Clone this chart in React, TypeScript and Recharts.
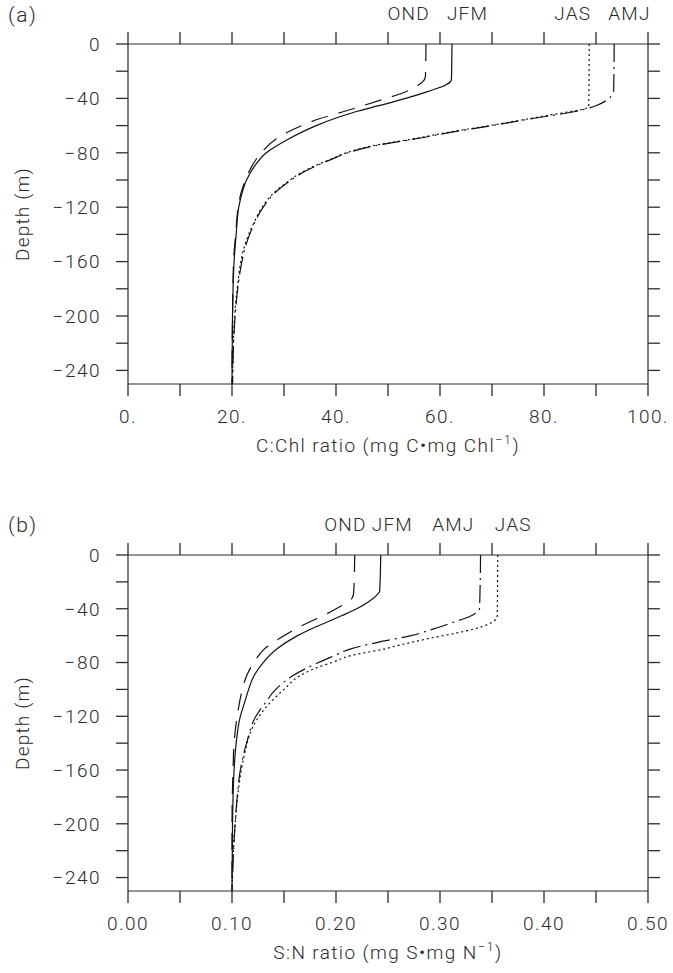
import React from 'react';
import { LineChart, Line, XAxis, YAxis } from 'recharts';

const FONT = 'Roboto, "DejaVu Sans", sans-serif';
const INK = '#2b2b2b';

// depth axis ticks (m), same for both panels
const DEPTH_TICKS = [0, -20, -40, -60, -80, -100, -120, -140, -160, -180, -200, -220, -240];
const CCHL_TICKS = [0, 10, 20, 30, 40, 50, 60, 70, 80, 90, 100];
const SN_TICKS = [0, 0.05, 0.1, 0.15, 0.2, 0.25, 0.3, 0.35, 0.4, 0.45, 0.5];

// (a) C:Chl ratio profiles
const chlJfmDepth = [0, -26, -30, -35, -40, -45, -50, -55, -60, -70, -80, -90, -100, -110, -120, -140, -160, -200, -250];
const chlJfm = [62.3, 62.2, 61.2, 57.6, 53.4, 48.6, 43.6, 39.6, 36.2, 30.8, 26.6, 24.3, 22.8, 21.9, 21.3, 20.8, 20.4, 20.1, 20.0];
const chlOndDepth = [0, -24, -28, -32, -36, -40, -45, -50, -55, -60, -70, -80, -90, -100, -110, -120, -140, -160, -200, -250];
const chlOnd = [57.3, 57.2, 56.6, 55.0, 52.8, 49.6, 45.5, 41.2, 36.8, 33.4, 28.4, 25.6, 23.8, 22.6, 21.7, 21.2, 20.7, 20.3, 20.1, 20.0];
const chlJasDepth = [0, -46, -48, -50, -55, -60, -65, -70, -75, -80, -85, -90, -95, -100, -110, -120, -130, -140, -150, -160, -180, -200, -250];
const chlJas = [88.7, 88.6, 87.5, 84.5, 77.0, 69.5, 61.5, 54.5, 46.8, 42.0, 38.8, 35.7, 33.1, 31.2, 27.9, 25.8, 24.4, 23.2, 22.3, 21.7, 21.0, 20.5, 20.1];
const chlAmjDepth = [0, -34, -38, -42, -45, -48, -50, -55, -60, -65, -70, -75, -80, -85, -90, -95, -100, -110, -120, -130, -140, -150, -160, -180, -200, -250];
const chlAmj = [93.5, 93.4, 93.0, 91.8, 90.2, 87.8, 85.5, 77.5, 70.0, 62.0, 55.0, 47.2, 42.3, 39.0, 36.0, 33.4, 31.4, 28.1, 26.0, 24.5, 23.4, 22.5, 21.9, 21.1, 20.6, 20.1];

// (b) S:N ratio profiles
const snJfmDepth = [0, -27, -30, -35, -40, -45, -50, -55, -60, -70, -80, -90, -100, -110, -120, -140, -160, -200, -250];
const snJfm = [0.243, 0.242, 0.239, 0.231, 0.22, 0.206, 0.191, 0.176, 0.163, 0.143, 0.13, 0.121, 0.116, 0.112, 0.108, 0.104, 0.102, 0.1005, 0.1];
const snOndDepth = [0, -28, -32, -36, -40, -45, -50, -55, -60, -70, -80, -90, -100, -120, -140, -160, -200, -250];
const snOnd = [0.218, 0.217, 0.2155, 0.209, 0.2, 0.188, 0.174, 0.161, 0.15, 0.131, 0.121, 0.114, 0.11, 0.105, 0.102, 0.101, 0.1, 0.1];
const snAmjDepth = [0, -40, -43, -46, -50, -55, -60, -65, -70, -75, -80, -90, -100, -110, -120, -140, -160, -180, -200, -250];
const snAmj = [0.339, 0.338, 0.335, 0.328, 0.313, 0.294, 0.272, 0.24, 0.2135, 0.198, 0.183, 0.158, 0.142, 0.132, 0.123, 0.114, 0.108, 0.105, 0.103, 0.1];
const snJasDepth = [0, -46, -49, -52, -55, -58, -62, -67, -70, -75, -80, -84, -90, -100, -113, -128, -145, -160, -200, -250];
const snJas = [0.3555, 0.355, 0.352, 0.345, 0.333, 0.316, 0.29, 0.2615, 0.246, 0.2135, 0.196, 0.181, 0.165, 0.15, 0.133, 0.12, 0.113, 0.109, 0.103, 0.1];

const zip = (depth: number[], value: number[]) => depth.map((d, i) => ({ d, v: value[i] }));

type Series = {
  name: string;
  data: { d: number; v: number }[];
  dash?: string;
  anchor: 'start' | 'end';
  dx: number;
};

const DASH = {
  JFM: undefined,
  OND: '17 11',
  JAS: '2 3',
  AMJ: '18 5 2 5',
};

const panelA: Series[] = [
  { name: 'OND', data: zip(chlOndDepth, chlOnd), dash: DASH.OND, anchor: 'end', dx: 4 },
  { name: 'JFM', data: zip(chlJfmDepth, chlJfm), dash: DASH.JFM, anchor: 'start', dx: -5 },
  { name: 'JAS', data: zip(chlJasDepth, chlJas), dash: DASH.JAS, anchor: 'end', dx: 2 },
  { name: 'AMJ', data: zip(chlAmjDepth, chlAmj), dash: DASH.AMJ, anchor: 'start', dx: -6 },
];

const panelB: Series[] = [
  { name: 'OND', data: zip(snOndDepth, snOnd), dash: DASH.OND, anchor: 'end', dx: 12 },
  { name: 'JFM', data: zip(snJfmDepth, snJfm), dash: DASH.JFM, anchor: 'start', dx: -9 },
  { name: 'AMJ', data: zip(snAmjDepth, snAmj), dash: DASH.AMJ, anchor: 'end', dx: -6 },
  { name: 'JAS', data: zip(snJasDepth, snJas), dash: DASH.JAS, anchor: 'start', dx: -3 },
];

const tickStyle = { fontFamily: FONT, fontSize: 19, fill: INK, fontWeight: 300, letterSpacing: 1.5 };
const tickLine = { stroke: INK, strokeWidth: 1.3 };
const minus = (s: string) => s.replace('-', '\u2212');

function SeasonLabel(props: any) {
  const { x, y, index, text, anchor, dx } = props;
  if (index !== 0) return null;
  return (
    <text x={x + dx} y={y - 24} textAnchor={anchor} fontFamily={FONT} fontSize={19} fontWeight={300} fill={INK} letterSpacing={1.2}>
      {text}
    </text>
  );
}

function XTitle(props: any) {
  const { viewBox, main, unitA, unitB } = props;
  const cx = viewBox.x + viewBox.width / 2;
  const y = viewBox.y + 68;
  return (
    <text x={cx} y={y} textAnchor="middle" fontFamily={FONT} fontSize={19} fontWeight={300} fill={INK} letterSpacing={1.4}>
      {main}
      <tspan>{unitA}</tspan>
      <tspan fontSize={13} dy={-8}>{'\u22121'}</tspan>
      <tspan dy={8}>{unitB}</tspan>
    </text>
  );
}

function YTitle(props: any) {
  const { viewBox } = props;
  const cx = 22;
  const cy = viewBox.y + viewBox.height / 2;
  return (
    <text
      x={cx}
      y={cy}
      transform={`rotate(-90 ${cx} ${cy})`}
      textAnchor="middle"
      dominantBaseline="central"
      fontFamily={FONT}
      fontSize={19}
      fontWeight={300}
      fill={INK}
      letterSpacing={1.2}
    >
      Depth (m)
    </text>
  );
}

type PanelProps = {
  series: Series[];
  domain: [number, number];
  ticks: number[];
  fmt: (v: number, i: number) => string;
  titleMain: string;
  titleA: string;
  titleB: string;
  top: number;
  bottom: number;
};

function Panel({ series, domain, ticks, fmt, titleMain, titleA, titleB, top, bottom }: PanelProps) {
  return (
    <LineChart width={673} height={486} layout="vertical" margin={{ top, right: 10, bottom, left: 28 }}>
      <XAxis
        xAxisId="bottom"
        type="number"
        orientation="bottom"
        domain={domain}
        allowDataOverflow
        ticks={ticks}
        interval={0}
        height={60}
        tickSize={12}
        tickMargin={14}
        tickFormatter={fmt}
        stroke={INK}
        strokeWidth={1.2}
        tickLine={tickLine}
        tick={tickStyle}
        label={<XTitle main={titleMain} unitA={titleA} unitB={titleB} />}
      />
      <XAxis
        xAxisId="top"
        type="number"
        orientation="top"
        domain={domain}
        allowDataOverflow
        ticks={ticks}
        interval={0}
        height={14}
        tickSize={12}
        tickFormatter={() => ''}
        stroke={INK}
        strokeWidth={1.2}
        tickLine={tickLine}
      />
      <YAxis
        yAxisId="left"
        type="number"
        dataKey="d"
        domain={[-250, 0]}
        allowDataOverflow
        reversed
        ticks={DEPTH_TICKS}
        interval={0}
        width={100}
        tickSize={12}
        tickMargin={15}
        tickFormatter={(v: number) => (v % 40 === 0 ? minus(String(v)) : '')}
        stroke={INK}
        strokeWidth={1.2}
        tickLine={tickLine}
        tick={tickStyle}
        label={<YTitle />}
      />
      <YAxis
        yAxisId="right"
        type="number"
        dataKey="d"
        orientation="right"
        domain={[-250, 0]}
        allowDataOverflow
        reversed
        ticks={DEPTH_TICKS}
        interval={0}
        width={15}
        tickSize={12}
        tickFormatter={() => ''}
        stroke={INK}
        strokeWidth={1.2}
        tickLine={tickLine}
      />
      {series.map((s) => (
        <Line
          key={s.name}
          xAxisId="bottom"
          yAxisId="left"
          data={s.data}
          dataKey="v"
          type="monotone"
          dot={false}
          stroke="#111"
          strokeWidth={1.2}
          strokeDasharray={s.dash}
          isAnimationActive={false}
          label={<SeasonLabel text={s.name} anchor={s.anchor} dx={s.dx} />}
        />
      ))}
      {/* invisible copy so the top and right frame axes get their scales */}
      <Line
        xAxisId="top"
        yAxisId="right"
        data={series[1].data}
        dataKey="v"
        stroke="none"
        dot={false}
        activeDot={false}
        legendType="none"
        isAnimationActive={false}
      />
    </LineChart>
  );
}

const fmtChl = (v: number) => (v % 20 === 0 ? `${v}.` : '');
const fmtSn = (v: number, i: number) => (i % 2 === 0 ? v.toFixed(2) : '');

const panelLetter: React.CSSProperties = {
  position: 'absolute',
  left: 8,
  fontFamily: FONT,
  fontSize: 21,
  fontWeight: 300,
  color: INK,
  letterSpacing: 1.5,
};

export default function App() {
  return (
    <div style={{ position: 'absolute', left: 0, top: 0, width: 673, height: 973, background: '#fff' }}>
      <div style={{ ...panelLetter, top: 3 }}>(a)</div>
      <div style={{ ...panelLetter, top: 513 }}>(b)</div>
      <div style={{ position: 'absolute', left: 0, top: 0 }}>
        <Panel
          series={panelA}
          domain={[0, 100]}
          ticks={CCHL_TICKS}
          fmt={fmtChl}
          titleMain="C:Chl ratio "
          titleA={'(mg C\u2022mg Chl'}
          titleB=")"
          top={30}
          bottom={42}
        />
      </div>
      <div style={{ position: 'absolute', left: 0, top: 486 }}>
        <Panel
          series={panelB}
          domain={[0, 0.5]}
          ticks={SN_TICKS}
          fmt={fmtSn}
          titleMain="S:N ratio "
          titleA={'(mg S\u2022mg N'}
          titleB=")"
          top={55}
          bottom={21}
        />
      </div>
    </div>
  );
}
